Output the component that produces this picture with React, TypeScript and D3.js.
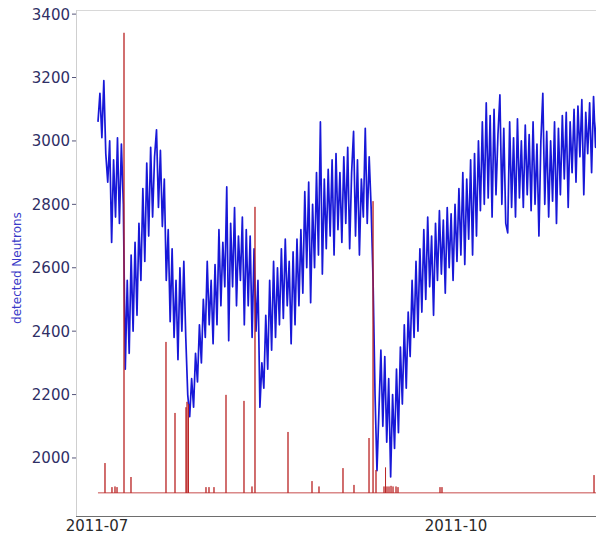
import React, { useEffect, useRef } from 'react';
import * as d3 from 'd3';

// detected neutron counts, one sample every 12h starting 2011-07-01 06:00 UTC
const blueStart = Date.UTC(2011, 6, 1, 6);
const blueStepHours = 12;
const blueValues = [
  3060, 3150, 3010, 3190, 2960, 2870, 3000, 2680, 2940, 2760,
  3010, 2740, 2990, 2800, 2280, 2560, 2330, 2640, 2400, 2680,
  2450, 2740, 2560, 2850, 2620, 2930, 2700, 2980, 2760, 2950,
  3035, 2790, 2970, 2730, 2880, 2560, 2720, 2430, 2660, 2380,
  2560, 2310, 2600, 2400, 2620, 2380, 2200, 2130, 2250, 2160,
  2330, 2240, 2420, 2300, 2500, 2380, 2620, 2420, 2560, 2360,
  2610, 2420, 2720, 2480, 2680, 2540, 2855, 2370, 2740, 2540,
  2790, 2480, 2700, 2560, 2760, 2420, 2720, 2480, 2700, 2380,
  2660, 2400, 2560, 2160, 2300, 2220, 2450, 2280, 2560, 2340,
  2620, 2380, 2600, 2420, 2660, 2440, 2690, 2480, 2620, 2360,
  2650, 2420, 2690, 2480, 2720, 2520, 2840, 2600, 2870, 2490,
  2800, 2600, 2900, 2640, 3060, 2580, 2880, 2660, 2910, 2700,
  2940, 2640, 2960, 2720, 2900, 2680, 2950, 2740, 2980, 2660,
  2900, 3030, 2700, 2940, 2640, 2880, 2760, 3040, 2740, 2950,
  2790, 2560, 2200, 1960, 2150, 2340, 2100, 2320, 2050, 2250,
  1940, 2200, 2030, 2280, 2080, 2350, 2170, 2420, 2220, 2460,
  2320, 2560, 2380, 2620, 2400, 2660, 2460, 2720, 2500, 2760,
  2540, 2700, 2450, 2740, 2560, 2780, 2580, 2750, 2520, 2790,
  2600, 2770, 2560, 2800, 2620, 2850, 2640, 2900, 2610, 2880,
  2690, 2940, 2640, 2960, 2700, 3000, 2780, 3060, 2800, 3120,
  2820, 3080, 2760, 3100, 2830, 3020, 3145, 2800, 3040, 2740,
  2710, 3060, 2790, 3010, 2760, 3070, 2820, 3000, 2790, 3050,
  2830, 3020, 2780, 3060, 2800, 2990, 2700, 3000, 3150, 2800,
  3030, 2760, 3000, 2810, 3060, 2740, 3040, 2830, 3080, 2880,
  3090, 2790, 3060, 2900, 3100, 2870, 3110, 2950, 3130, 2830,
  3090, 2960, 3120, 2900, 3140, 2980, 3100, 2940,
];

// red series: flat baseline with isolated spikes (days after 2011-07-01)
const redBase = 1890;
const redStartDay = 0.25;
const redEndDay = 140;
const spikeDays = [
  2.05, 3.84, 4.61, 5.13, 6.92, 8.71, 17.68, 19.99, 22.81, 23.07,
  23.45, 27.93, 28.7, 29.98, 33.06, 37.67, 39.72, 40.49, 48.95, 55.1,
  56.89, 63.04, 65.86, 69.71, 70.74, 71.5, 73.55, 73.94, 74.32, 74.83,
  75.35, 75.86, 76.63, 77.14, 87.9, 88.41, 127.37,
];
const spikeValues = [
  1984, 1908, 1910, 1908, 3341, 1940, 2366, 2142, 2160, 2177,
  2170, 1908, 1908, 1908, 2199, 2180, 1910, 2792, 2082, 1927,
  1910, 1968, 1915, 2063, 2810, 1962, 1910, 1970, 1910, 1910,
  1912, 1910, 1910, 1908, 1908, 1908, 1946,
];

const yTicks = [2000, 2200, 2400, 2600, 2800, 3000, 3200, 3400];
const xTickDates = ['2011-07', '2011-10'];
const yLabel = 'detected Neutrons';

const W = 596;
const H = 537;
const DAY = 86400000;

const App = () => {
  const ref = useRef<SVGSVGElement>(null);

  useEffect(() => {
    if (!ref.current) return;
    const svg = d3.select(ref.current);
    svg.selectAll('*').remove();

    const left = 76, top = 10, bottom = 516;

    const x = d3.scaleUtc()
      .domain([new Date(Date.UTC(2011, 6, 1)), new Date(Date.UTC(2011, 9, 1))])
      .range([97, 456]);
    const y = d3.scaleLinear().domain([1817, 3413]).range([bottom, top]);

    const font = 'DejaVu Sans, sans-serif';

    svg.append('defs').append('clipPath').attr('id', 'plot')
      .append('rect').attr('x', left).attr('y', top).attr('width', W - left).attr('height', bottom - top);

    // frame
    svg.append('line').attr('x1', left).attr('x2', W).attr('y1', top + 0.5).attr('y2', top + 0.5)
      .attr('stroke', '#d8d8d8');
    svg.append('line').attr('x1', left + 0.5).attr('x2', left + 0.5).attr('y1', top).attr('y2', bottom)
      .attr('stroke', '#cfcfcf');

    const g = svg.append('g').attr('clip-path', 'url(#plot)');

    // red series
    const dayDate = (d: number) => new Date(Date.UTC(2011, 6, 1) + d * DAY);
    const redPts: [Date, number][] = [[dayDate(redStartDay), redBase]];
    spikeDays.forEach((d, i) => {
      redPts.push([dayDate(d), redBase], [dayDate(d), spikeValues[i]], [dayDate(d), redBase]);
    });
    redPts.push([dayDate(redEndDay), redBase]);

    // blue series
    const bluePts: [Date, number][] = blueValues.map((v, i) => [new Date(blueStart + i * blueStepHours * 3600000), v]);
    const line = d3.line<[Date, number]>().x(d => x(d[0])).y(d => y(d[1]));

    g.append('path').datum(bluePts).attr('d', line)
      .attr('fill', 'none').attr('stroke', '#1818d8').attr('stroke-width', 1.7)
      .attr('stroke-linejoin', 'round');

    g.append('path').datum(redPts).attr('d', line)
      .attr('fill', 'none').attr('stroke', '#b81e1e').attr('stroke-width', 1)
      .attr('stroke-opacity', 0.8);

    // bottom axis
    svg.append('line').attr('x1', left).attr('x2', W).attr('y1', bottom + 0.5).attr('y2', bottom + 0.5)
      .attr('stroke', '#6e6e6e');
    const parse = d3.utcParse('%Y-%m');
    xTickDates.forEach(t => {
      const d = parse(t)!;
      svg.append('text').attr('x', x(d)).attr('y', 531)
        .attr('text-anchor', 'middle').attr('font-family', font).attr('font-size', 15)
        .attr('fill', '#2a2a2a').text(d3.utcFormat('%Y-%m')(d));
    });

    // left axis
    yTicks.forEach(t => {
      svg.append('line').attr('x1', left - 4).attr('x2', left).attr('y1', y(t)).attr('y2', y(t))
        .attr('stroke', '#55557a');
      svg.append('text').attr('x', 70).attr('y', y(t)).attr('dy', '0.36em')
        .attr('text-anchor', 'end').attr('font-family', font).attr('font-size', 15)
        .attr('fill', '#2f2f66').text(t);
    });

    svg.append('text').attr('transform', `translate(21,268) rotate(-90)`)
      .attr('text-anchor', 'middle').attr('font-family', font).attr('font-size', 12)
      .attr('fill', '#3a3ac8').text(yLabel);
  }, []);

  return (
    <svg ref={ref} width={W} height={H}
      style={{ position: 'absolute', left: 0, top: 0, background: '#fff', display: 'block' }} />
  );
};

export default App;
